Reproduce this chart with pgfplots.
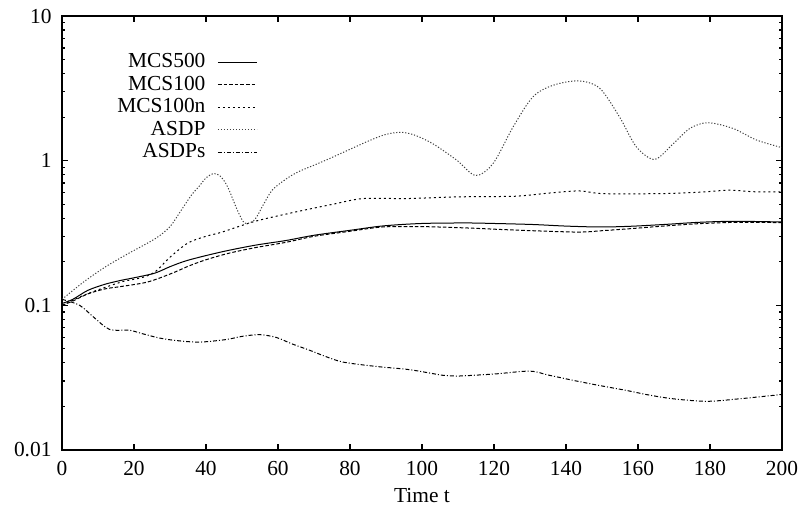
\documentclass[border=0pt]{standalone}
\usepackage{fontspec}
\setmainfont{Liberation Serif}
\usepackage{pgfplots}
\pgfplotsset{compat=1.18}
\begin{document}
\fontsize{10.7}{12.8}\selectfont
\begin{tikzpicture}
\begin{axis}[
  name=ax,
  scale only axis,
  width=360pt, height=217pt,
  xmin=0, xmax=200,
  ymode=log, ymin=0.01, ymax=10,
  xtick={0,20,...,200},
  ytick={0.01,0.1,1,10},
  yticklabels={0.01,0.1,1,10},
  /pgf/number format/assume math mode=true,
  tick align=inside,
  tick pos=both,
  major tick length=3pt,
  minor tick length=1.5pt,
  axis line style={line width=0.9pt},
  every tick/.style={black, line width=0.6pt},
  xlabel={Time t},
  xlabel style={yshift=1pt},
  xticklabel style={yshift=-2pt},
  yticklabel style={xshift=-1.5pt},
  ticklabel style={font=\fontsize{10.7}{12.8}\selectfont},
  label style={font=\fontsize{10.7}{12.8}\selectfont},
  legend cell align=right,
  legend plot pos=right,
  legend image code/.code={\draw[#1] (0pt,0pt) -- (19.5pt,0pt);},
  legend style={draw=none, fill=none, at={(0.272,0.915)}, anchor=north east,
    inner sep=0pt, row sep=2pt,
    nodes={inner sep=0pt, text height=7.3pt, text depth=1.9pt, font=\fontsize{10.7}{12.8}\selectfont},
    /tikz/every odd column/.append style={column sep=6pt}},
]
\addplot[black, line width=0.5pt, smooth] coordinates {
(0,0.103) (3,0.11) (7.2,0.127) (12,0.14) (16.5,0.149) (20,0.155) (25.8,0.167) (30,0.185) (35,0.205) (44.3,0.234) (53.5,0.26) (62,0.28) (70,0.305) (80,0.33) (89.2,0.354) (100,0.368) (112.3,0.371) (120,0.368) (130.8,0.362) (140,0.353) (149.4,0.348) (158,0.352) (167.9,0.363) (177,0.375) (186.5,0.381) (200,0.377)
};
\addlegendentry{MCS500}
\addplot[black, line width=0.5pt, smooth, dash pattern=on 1.8pt off 1pt] coordinates {
(0,0.1) (3,0.107) (7.2,0.12) (12,0.13) (16.5,0.135) (23.8,0.145) (30.4,0.166) (35,0.186) (39.6,0.205) (46,0.228) (53.5,0.25) (62,0.272) (70,0.30) (80,0.325) (89,0.348) (100,0.35) (112,0.343) (125,0.332) (142.9,0.321) (150,0.328) (158.7,0.34) (167,0.353) (177,0.367) (188,0.375) (200,0.373)
};
\addlegendentry{MCS100}
\addplot[black, line width=0.5pt, smooth, dash pattern=on 1pt off 1.5pt] coordinates {
(0,0.1) (7,0.12) (16.5,0.145) (22,0.155) (25.8,0.17) (30,0.215) (35,0.27) (40,0.3) (44.3,0.32) (53.5,0.38) (62.7,0.43) (70,0.47) (75.3,0.50) (83.6,0.547) (95.7,0.547) (107.7,0.56) (116,0.565) (126.2,0.568) (135.6,0.598) (143.6,0.618) (149.4,0.593) (158,0.59) (167.9,0.593) (177,0.605) (185.5,0.625) (192,0.61) (200,0.608)
};
\addlegendentry{MCS100n}
\addplot[black!75, line width=0.5pt, smooth, dash pattern=on 0.6pt off 0.9pt] coordinates {
(0,0.11) (6,0.145) (12,0.184) (18,0.225) (26,0.29) (30,0.35) (33,0.45) (36,0.58) (38,0.66) (40,0.76) (42.2,0.815) (44,0.78) (46,0.66) (48.8,0.45) (50.8,0.37) (53.5,0.39) (56,0.5) (58.5,0.63) (62.7,0.76) (66,0.846) (70,0.93) (75.3,1.06) (84.6,1.35) (90,1.52) (94.3,1.57) (98,1.5) (103,1.31) (109.6,1.01) (114.9,0.79) (119.8,0.96) (125.3,1.71) (130.8,2.76) (136.4,3.32) (143.6,3.56) (149.4,3.16) (154.9,2.0) (159.5,1.25) (164.6,1.02) (169.8,1.31) (174.4,1.67) (179.4,1.83) (186.4,1.67) (192.9,1.39) (200,1.23)
};
\addlegendentry{ASDP}
\addplot[black, line width=0.5pt, smooth, dash pattern=on 2pt off 1pt on 0.5pt off 1pt] coordinates {
(0,0.11) (4.9,0.10) (9,0.082) (13.2,0.0682) (18.8,0.0672) (22,0.064) (27.1,0.0594) (32,0.057) (38.2,0.0557) (45.6,0.058) (50,0.061) (54.9,0.0627) (59.5,0.060) (64,0.054) (68.8,0.0489) (73,0.0445) (78.1,0.0405) (87.3,0.0378) (96.6,0.0359) (105.9,0.0328) (109.5,0.0324) (120,0.0335) (129.9,0.0351) (135,0.033) (142,0.0303) (149,0.028) (156.8,0.0258) (163,0.024) (169.7,0.0226) (179,0.0217) (188.3,0.0226) (200,0.0242)
};
\addlegendentry{ASDPs}
\end{axis}
\pgfresetboundingbox
\useasboundingbox ([xshift=-31pt,yshift=-30pt]ax.south west) rectangle ([xshift=8.5pt,yshift=8pt]ax.north east);
\end{tikzpicture}
\end{document}
